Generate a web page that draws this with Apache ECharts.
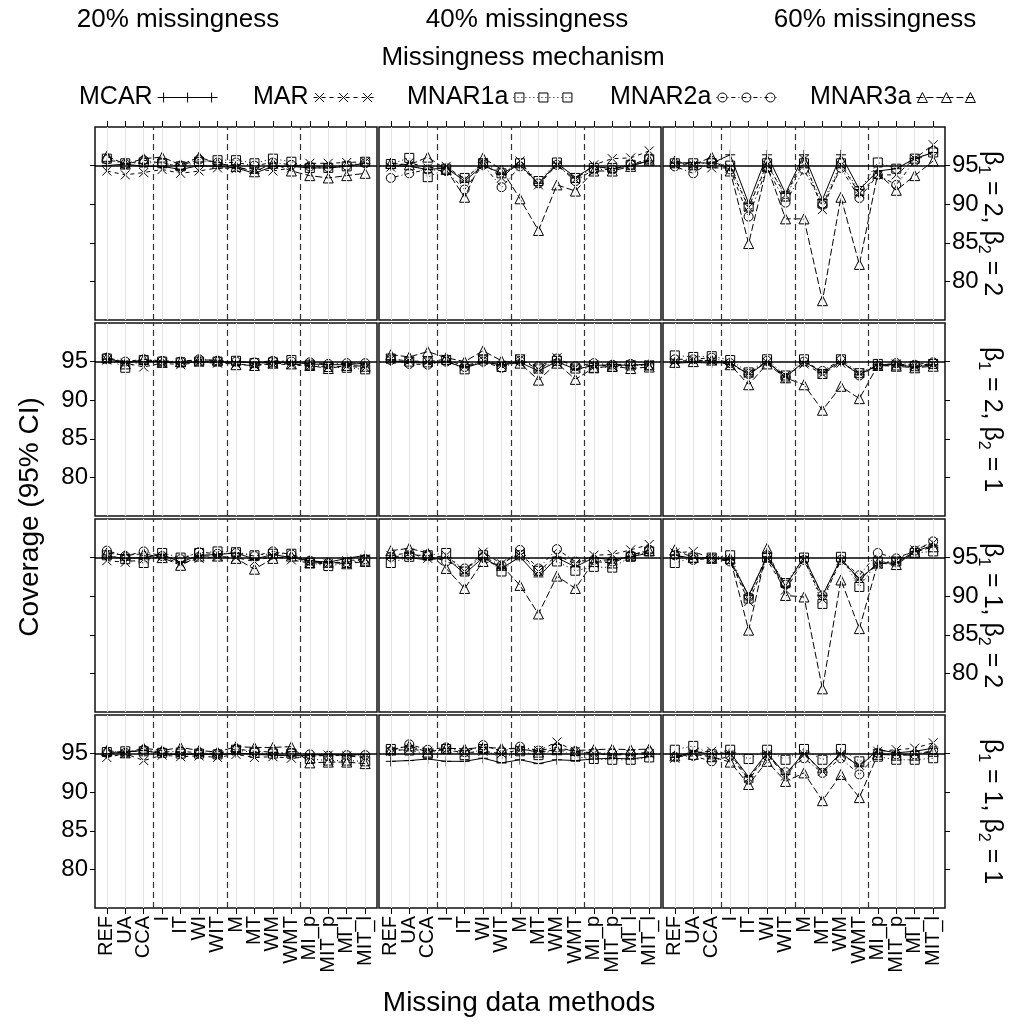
<!DOCTYPE html>
<html>
<head>
<meta charset="utf-8">
<script src="https://cdn.jsdelivr.net/npm/echarts@6/dist/echarts.min.js"></script>
<style>
html,body{margin:0;padding:0;background:#fff;}
#chart{width:1034px;height:1029px;}
</style>
</head>
<body>
<div id="chart"></div>
<script>
// ---------- categories / labels ----------
const categories = ['REF','UA','CCA','I','IT','WI','WIT','M','MT','WM','WMT','MI_p','MIT_p','MI_l','MIT_l'];
const mechanisms = ['MCAR','MAR','MNAR1a','MNAR2a','MNAR3a'];
const columnLabels = ['20% missingness','40% missingness','60% missingness'];
const rowLabels = [['2','2'],['2','1'],['1','2'],['1','1']]; // [beta1, beta2]
const yTicks = [80,85,90,95];
const separators = [3.5, 7.5, 11.5];
const target = 95;

// ---------- data: beta1=2, beta2=2 ----------
const b22_20_MCAR   = [95.0,95.2,94.9,94.9,94.5,95.0,94.9,94.7,94.0,94.9,94.9,94.7,94.7,94.9,95.3];
const b22_20_MAR    = [94.3,93.8,94.1,94.5,94.0,94.3,94.7,94.6,94.6,94.3,94.7,95.3,95.3,95.4,95.5];
const b22_20_MNAR1a = [95.9,95.3,95.4,95.3,94.9,95.5,95.7,95.7,95.3,95.9,95.5,94.7,94.7,94.9,95.5];
const b22_20_MNAR2a = [95.8,95.2,95.7,95.3,95.0,95.8,95.4,95.4,95.0,95.4,95.1,94.9,94.8,95.0,95.3];
const b22_20_MNAR3a = [96.2,95.2,95.9,96.1,95.1,96.1,95.3,94.9,94.2,95.3,94.3,93.7,93.4,93.7,94.0];

const b22_40_MCAR   = [95.0,94.9,94.5,94.7,93.0,95.0,94.0,95.1,92.7,95.3,93.5,94.9,94.6,95.0,95.6];
const b22_40_MAR    = [94.8,95.4,94.7,94.9,93.2,95.4,93.4,95.6,92.5,95.1,93.2,95.1,95.9,96.0,96.9];
const b22_40_MNAR1a = [95.2,96.0,93.5,94.6,93.4,95.3,94.0,95.3,93.0,95.4,93.4,94.7,94.7,95.1,95.8];
const b22_40_MNAR2a = [93.4,94.0,94.5,94.3,91.9,95.1,92.2,94.9,92.7,95.1,93.0,94.5,94.5,95.1,95.9];
const b22_40_MNAR3a = [95.3,95.1,96.1,94.5,90.9,96.0,94.5,90.7,86.6,92.5,91.7,94.3,94.3,94.9,95.7];

const b22_60_MCAR   = [95.3,95.4,95.3,96.4,90.1,96.4,91.4,96.4,90.6,96.4,91.9,94.3,94.6,95.9,96.7];
const b22_60_MAR    = [95.1,95.1,94.7,94.7,89.6,95.1,91.2,95.8,89.3,95.1,91.4,93.8,93.8,95.9,97.7];
const b22_60_MNAR1a = [95.3,95.3,95.3,95.0,89.7,95.3,91.0,95.3,90.1,95.3,91.7,95.4,94.6,95.9,96.7];
const b22_60_MNAR2a = [94.9,94.0,95.6,94.5,88.4,94.7,90.2,94.5,89.9,94.7,90.8,93.8,92.5,95.6,96.9];
const b22_60_MNAR3a = [95.6,95.1,96.1,94.3,84.9,94.9,88.1,88.1,77.5,90.9,82.2,94.0,91.8,93.7,95.6];

// ---------- data: beta1=2, beta2=1 ----------
const b21_20_MCAR   = [95.3,95.0,95.0,95.0,94.8,95.0,94.9,95.0,94.8,94.9,94.9,94.7,94.6,94.6,94.8];
const b21_20_MAR    = [95.2,94.8,94.3,94.8,94.6,94.9,94.8,94.7,94.5,94.7,94.6,94.4,94.3,94.4,94.2];
const b21_20_MNAR1a = [95.4,94.2,95.2,95.0,94.9,95.0,95.0,95.1,94.8,94.9,95.2,94.6,94.3,94.2,94.0];
const b21_20_MNAR2a = [95.5,95.0,95.3,95.1,95.0,95.3,95.1,95.0,94.9,95.1,95.0,94.9,94.7,94.8,94.8];
const b21_20_MNAR3a = [95.5,94.7,95.3,94.9,95.0,95.2,95.2,94.6,94.5,94.8,94.7,94.5,94.1,94.5,94.4];

const b21_40_MCAR   = [95.1,94.9,94.8,95.0,94.2,94.9,94.6,94.9,93.8,95.0,94.0,94.5,94.6,94.5,94.7];
const b21_40_MAR    = [95.3,95.1,95.0,95.3,94.4,95.2,94.5,95.3,94.0,95.5,94.2,94.6,94.4,94.6,94.6];
const b21_40_MNAR1a = [95.4,95.0,94.9,95.2,94.0,95.3,94.3,95.3,94.1,95.1,94.1,94.2,94.3,94.5,94.5];
const b21_40_MNAR2a = [95.2,94.7,94.6,95.0,94.3,95.0,94.2,95.1,94.4,95.4,94.4,94.8,94.6,94.7,94.5];
const b21_40_MNAR3a = [95.9,95.6,96.3,95.5,95.0,96.4,95.1,94.8,92.6,94.8,92.7,94.2,94.4,94.1,94.3];

const b21_60_MCAR   = [94.8,94.9,94.8,94.9,93.3,95.0,93.0,95.0,93.6,95.0,93.3,94.6,94.6,94.3,94.6];
const b21_60_MAR    = [95.0,95.2,95.1,94.6,93.5,94.9,93.2,94.7,93.4,94.8,93.5,94.4,94.7,94.5,94.7];
const b21_60_MNAR1a = [95.8,95.6,95.7,95.2,93.6,95.3,93.2,95.3,93.4,95.3,93.5,94.7,94.5,94.4,94.7];
const b21_60_MNAR2a = [95.3,95.3,95.5,94.8,93.4,95.1,92.9,95.0,93.8,95.2,93.2,94.5,94.8,94.6,94.9];
const b21_60_MNAR3a = [94.9,95.0,95.2,94.6,92.0,94.7,92.9,92.0,88.7,91.8,90.2,94.5,94.4,94.2,94.4];

// ---------- data: beta1=1, beta2=2 ----------
const b12_20_MCAR   = [95.2,94.9,95.0,95.4,94.4,95.3,95.4,95.6,94.8,95.4,95.0,94.6,94.4,94.9,95.3];
const b12_20_MAR    = [94.6,94.4,94.8,95.1,94.2,94.9,95.1,95.0,94.5,95.2,94.7,94.3,94.2,94.6,94.8];
const b12_20_MNAR1a = [95.3,94.8,94.3,95.6,95.0,95.6,95.8,95.7,95.3,95.5,95.5,94.3,93.9,94.3,94.6];
const b12_20_MNAR2a = [95.9,95.2,95.8,95.2,94.8,95.7,95.5,95.6,95.2,95.8,95.4,94.6,94.3,94.4,94.8];
const b12_20_MNAR3a = [95.6,95.3,95.5,95.0,94.0,95.2,95.2,94.9,93.5,94.9,95.2,94.3,94.4,94.2,94.5];

const b12_40_MCAR   = [95.0,95.0,94.7,95.0,92.9,95.0,93.6,95.1,92.5,95.0,93.8,95.0,94.7,95.1,95.6];
const b12_40_MAR    = [95.3,95.6,94.9,95.3,93.2,95.7,94.2,95.6,93.2,95.3,94.2,95.3,95.4,96.0,96.7];
const b12_40_MNAR1a = [94.3,95.1,95.3,95.6,93.2,95.3,93.2,95.3,93.3,94.5,93.3,93.8,93.7,95.1,95.8];
const b12_40_MNAR2a = [95.1,95.3,95.3,94.5,93.6,95.1,94.0,96.0,93.6,96.1,94.5,94.7,94.5,95.3,96.0];
const b12_40_MNAR3a = [95.9,96.2,95.6,93.6,91.0,94.5,94.0,91.4,87.7,92.6,91.0,94.5,94.3,95.3,95.9];

const b12_60_MCAR   = [95.3,94.9,95.0,94.7,90.1,95.1,91.3,95.1,90.1,94.9,92.1,94.3,94.3,95.8,96.6];
const b12_60_MAR    = [95.6,95.8,94.9,94.6,89.3,94.7,90.8,94.7,89.6,94.6,92.3,94.1,94.6,96.0,96.9];
const b12_60_MNAR1a = [94.3,95.0,95.0,95.3,89.7,95.0,91.7,95.0,89.0,95.1,91.2,94.5,94.5,95.6,95.8];
const b12_60_MNAR2a = [95.3,94.7,94.9,94.5,89.9,95.3,91.5,94.7,90.1,94.7,92.7,95.6,94.9,95.9,97.1];
const b12_60_MNAR3a = [96.0,95.0,94.9,94.9,85.6,96.2,90.1,89.9,78.0,92.1,85.8,94.3,94.1,95.7,96.4];

// ---------- data: beta1=1, beta2=1 ----------
const b11_20_MCAR   = [95.0,95.2,95.4,95.0,94.8,95.0,94.8,95.1,94.9,94.8,94.7,94.8,94.9,94.8,94.9];
const b11_20_MAR    = [94.5,95.0,94.1,94.8,94.6,94.7,94.5,94.9,94.5,94.6,94.4,94.6,94.8,94.7,94.5];
const b11_20_MNAR1a = [95.2,95.3,95.3,95.1,95.0,95.0,94.9,95.5,95.1,95.0,95.0,94.3,94.1,94.1,94.0];
const b11_20_MNAR2a = [95.1,95.1,95.5,95.2,95.3,95.1,95.0,95.6,95.3,95.2,95.1,94.9,94.7,94.8,94.8];
const b11_20_MNAR3a = [95.4,95.1,95.7,95.4,95.8,95.4,95.2,95.9,95.8,95.8,95.9,93.8,93.9,93.9,93.7];

const b11_40_MCAR   = [94.0,94.1,94.3,94.0,94.0,94.4,93.8,94.2,93.7,94.2,94.1,94.3,94.4,94.3,94.6];
const b11_40_MAR    = [95.3,95.6,95.3,95.5,95.1,95.3,95.0,95.5,95.4,96.5,95.3,95.0,94.8,94.9,95.0];
const b11_40_MNAR1a = [95.6,95.4,95.0,95.6,94.8,95.6,94.4,95.3,94.8,95.6,94.6,94.3,94.2,94.2,94.5];
const b11_40_MNAR2a = [95.3,96.2,95.5,95.8,95.2,96.1,95.3,95.9,95.4,95.8,95.3,95.1,95.0,94.9,95.2];
const b11_40_MNAR3a = [95.5,96.0,95.2,95.7,95.6,95.8,95.7,95.6,95.2,95.5,95.4,95.5,95.6,95.5,95.6];

const b11_60_MCAR   = [94.5,95.3,94.9,95.1,92.0,95.1,92.3,95.1,92.6,95.1,93.3,95.5,95.1,95.3,95.7];
const b11_60_MAR    = [94.4,95.1,95.3,94.9,91.8,94.9,92.1,94.9,92.7,94.9,93.5,95.3,95.5,95.7,96.4];
const b11_60_MNAR1a = [95.5,96.0,94.9,95.5,94.3,95.5,94.2,95.6,94.2,95.6,94.0,94.6,94.2,94.2,94.4];
const b11_60_MNAR2a = [94.6,94.7,94.0,94.7,91.6,94.7,92.6,94.4,92.5,94.4,92.3,95.1,94.9,94.9,95.4];
const b11_60_MNAR3a = [94.7,94.9,94.6,93.9,91.0,94.0,91.4,92.5,88.9,92.3,89.3,94.9,94.8,94.8,95.3];

// panel lookup [row][col][mechanism]
const panelData = [
  [[b22_20_MCAR,b22_20_MAR,b22_20_MNAR1a,b22_20_MNAR2a,b22_20_MNAR3a],
   [b22_40_MCAR,b22_40_MAR,b22_40_MNAR1a,b22_40_MNAR2a,b22_40_MNAR3a],
   [b22_60_MCAR,b22_60_MAR,b22_60_MNAR1a,b22_60_MNAR2a,b22_60_MNAR3a]],
  [[b21_20_MCAR,b21_20_MAR,b21_20_MNAR1a,b21_20_MNAR2a,b21_20_MNAR3a],
   [b21_40_MCAR,b21_40_MAR,b21_40_MNAR1a,b21_40_MNAR2a,b21_40_MNAR3a],
   [b21_60_MCAR,b21_60_MAR,b21_60_MNAR1a,b21_60_MNAR2a,b21_60_MNAR3a]],
  [[b12_20_MCAR,b12_20_MAR,b12_20_MNAR1a,b12_20_MNAR2a,b12_20_MNAR3a],
   [b12_40_MCAR,b12_40_MAR,b12_40_MNAR1a,b12_40_MNAR2a,b12_40_MNAR3a],
   [b12_60_MCAR,b12_60_MAR,b12_60_MNAR1a,b12_60_MNAR2a,b12_60_MNAR3a]],
  [[b11_20_MCAR,b11_20_MAR,b11_20_MNAR1a,b11_20_MNAR2a,b11_20_MNAR3a],
   [b11_40_MCAR,b11_40_MAR,b11_40_MNAR1a,b11_40_MNAR2a,b11_40_MNAR3a],
   [b11_60_MCAR,b11_60_MAR,b11_60_MNAR1a,b11_60_MNAR2a,b11_60_MNAR3a]]
];

// ---------- styles ----------
const FONT = "'Liberation Sans', Arial, Helvetica, sans-serif";
const symbols = [
  'path://M5,0L5,10M0,5L10,5',
  'path://M0,0L10,10M10,0L0,10',
  'rect', 'circle', 'triangle'
];
const symbolSizes = [10, 9, 9, 9, 10];
const dashes = ['solid', [4,4], [1,3], [1,3,4,3], [7,3]];

// legend key: line with three markers (icon path, 60x12 box)
function keyIcon(k) {
  const W = 60, cy = 6, xs = [6, 30, 54];
  let d = '';
  const pat = dashes[k];
  if (pat === 'solid') {
    d += 'M0,' + cy + 'L' + W + ',' + cy;
  } else {
    let x = 0, i = 0;
    while (x < W) {
      const len = pat[i % pat.length];
      const end = Math.min(W, x + len);
      if (i % 2 === 0) d += 'M' + x + ',' + cy + 'L' + end + ',' + cy;
      x = end; i++;
    }
  }
  xs.forEach(x => {
    if (k === 0) d += 'M' + x + ',1L' + x + ',11M' + (x - 5) + ',6L' + (x + 5) + ',6';
    else if (k === 1) d += 'M' + (x - 4.5) + ',1.5L' + (x + 4.5) + ',10.5M' + (x + 4.5) + ',1.5L' + (x - 4.5) + ',10.5';
    else if (k === 2) d += 'M' + (x - 4.5) + ',1.5L' + (x + 4.5) + ',1.5L' + (x + 4.5) + ',10.5L' + (x - 4.5) + ',10.5Z';
    else if (k === 3) d += 'M' + (x - 4.5) + ',6A4.5,4.5 0 1,1 ' + (x + 4.5) + ',6A4.5,4.5 0 1,1 ' + (x - 4.5) + ',6Z';
    else d += 'M' + x + ',1L' + (x + 5) + ',11L' + (x - 5) + ',11Z';
  });
  d += 'M0,0L0,0M' + W + ',12L' + W + ',12';
  return 'path://' + d;
}

const gridLefts = [95, 379, 663];
const gridTops = [127, 323, 519, 715];
const GW = 282, GH = 193;
const xTickVals = categories.map((_, i) => i + 1);
const xOddVals = xTickVals.filter(v => v % 2 === 1);
const xEvenVals = xTickVals.filter(v => v % 2 === 0);
const catFormatter = v => categories[Math.round(v) - 1] || '';

const grids = [], xAxes = [], yAxes = [], series = [], extraX = [];
for (let r = 0; r < 4; r++) {
  for (let c = 0; c < 3; c++) {
    const g = r * 3 + c;
    grids.push({
      left: gridLefts[c], top: gridTops[r], width: GW, height: GH,
      show: true, borderColor: '#111', borderWidth: 1.5, backgroundColor: 'transparent'
    });
    const labelStyle = {
      rotate: 90, margin: 8, showMinLabel: true, showMaxLabel: true, hideOverlap: false,
      fontSize: 20, color: '#000', fontFamily: FONT, formatter: catFormatter
    };
    xAxes.push({
      gridIndex: g, type: 'value', min: 0.36, max: 15.64,
      position: r === 0 ? 'top' : 'bottom',
      axisLine: { show: false }, splitLine: { show: false },
      axisTick: { show: r === 0 || r === 3, customValues: xTickVals, length: 6, lineStyle: { color: '#000', width: 1 } },
      axisLabel: Object.assign({ show: r === 3, customValues: xOddVals }, labelStyle)
    });
    if (r === 3) {
      // second label-only axis (even categories) so rotated labels are not culled
      extraX.push({
        gridIndex: g, type: 'value', min: 0.36, max: 15.64, position: 'bottom',
        axisLine: { show: false }, splitLine: { show: false }, axisTick: { show: false },
        axisLabel: Object.assign({ show: true, customValues: xEvenVals }, labelStyle)
      });
    }
    const showYLabel = (c === 0 && r % 2 === 1) || (c === 2 && r % 2 === 0);
    yAxes.push({
      gridIndex: g, type: 'value', min: 75, max: 100,
      position: c === 2 ? 'right' : 'left',
      axisLine: { show: false }, splitLine: { show: false },
      axisTick: { show: c !== 1, customValues: yTicks, length: 5, lineStyle: { color: '#000', width: 1 } },
      axisLabel: { show: showYLabel, customValues: yTicks, margin: 7, fontSize: 24, color: '#000', fontFamily: FONT,
        showMinLabel: true, showMaxLabel: true }
    });
    // background reference lines
    series.push({
      name: '_bg', type: 'line', xAxisIndex: g, yAxisIndex: g, z: 1,
      data: [[0.36, 75]], showSymbol: false, symbol: 'none', lineStyle: { width: 0 }, silent: true,
      markLine: {
        silent: true, symbol: ['none', 'none'], label: { show: false }, animation: false,
        data: [
          ...xTickVals.map(v => ({ xAxis: v, lineStyle: { color: '#e2e2e2', width: 1, type: 'solid' } })),
          ...separators.map(v => ({ xAxis: v, lineStyle: { color: '#333', width: 1.2, type: [6, 4] } })),
          { yAxis: target, lineStyle: { color: '#000', width: 1.5, type: 'solid' } }
        ]
      }
    });
    mechanisms.forEach((m, k) => {
      series.push({
        name: m, type: 'line', xAxisIndex: g, yAxisIndex: g, z: 3,
        data: panelData[r][c][k].map((v, i) => [i + 1, v]),
        symbol: symbols[k], symbolSize: symbolSizes[k], showAllSymbol: true,
        itemStyle: { color: 'rgba(0,0,0,0)', borderColor: '#000', borderWidth: 1 },
        lineStyle: { color: '#000', width: 1, type: dashes[k] },
        emphasis: { disabled: true }, silent: true
      });
    });
  }
}
extraX.forEach(a => xAxes.push(a));

const legendX = [79, 253, 407, 610, 810];
const legends = mechanisms.map((m, i) => ({
  data: [{ name: m, icon: keyIcon(i) }], left: legendX[i], top: 85, align: 'right', padding: 0,
  itemWidth: 60, itemHeight: 12, selectedMode: false, symbolKeepAspect: true,
  itemStyle: { color: 'rgba(0,0,0,0)', borderColor: '#000', borderWidth: 1 },
  textStyle: { fontSize: 25, color: '#000', fontFamily: FONT }
}));

const graphics = [];
const headerX = [178, 527, 875];
columnLabels.forEach((t, i) => graphics.push({
  type: 'text', x: headerX[i], y: 20,
  style: { text: t, font: '26px ' + FONT, fill: '#000', textAlign: 'center', textVerticalAlign: 'middle' }
}));
graphics.push({
  type: 'text', x: 523, y: 58,
  style: { text: 'Missingness mechanism', font: '26px ' + FONT, fill: '#000', textAlign: 'center', textVerticalAlign: 'middle' }
});
graphics.push({
  type: 'text', x: 30, y: 517, rotation: Math.PI / 2,
  style: { text: 'Coverage (95% CI)', font: '28px ' + FONT, fill: '#000', textAlign: 'center', textVerticalAlign: 'middle' }
});
graphics.push({
  type: 'text', x: 519, y: 1003,
  style: { text: 'Missing data methods', font: '28px ' + FONT, fill: '#000', textAlign: 'center', textVerticalAlign: 'middle' }
});
rowLabels.forEach((b, r) => graphics.push({
  type: 'text', x: 992, y: gridTops[r] + GH / 2, rotation: -Math.PI / 2,
  style: {
    text: '{m|β}{s|1}{m| = ' + b[0] + ', β}{s|2}{m| = ' + b[1] + '}',
    fill: '#000', textAlign: 'center', textVerticalAlign: 'middle',
    rich: {
      m: { fontSize: 25, fontFamily: FONT, lineHeight: 34, verticalAlign: 'middle' },
      s: { fontSize: 16, fontFamily: FONT, lineHeight: 18, verticalAlign: 'bottom' }
    }
  }
}));

const chart = echarts.init(document.getElementById('chart'), null, { renderer: 'canvas' });
chart.setOption({
  animation: false,
  backgroundColor: '#fff',
  grid: grids, xAxis: xAxes, yAxis: yAxes,
  legend: legends,
  graphic: graphics,
  series: series
});
</script>
</body>
</html>
